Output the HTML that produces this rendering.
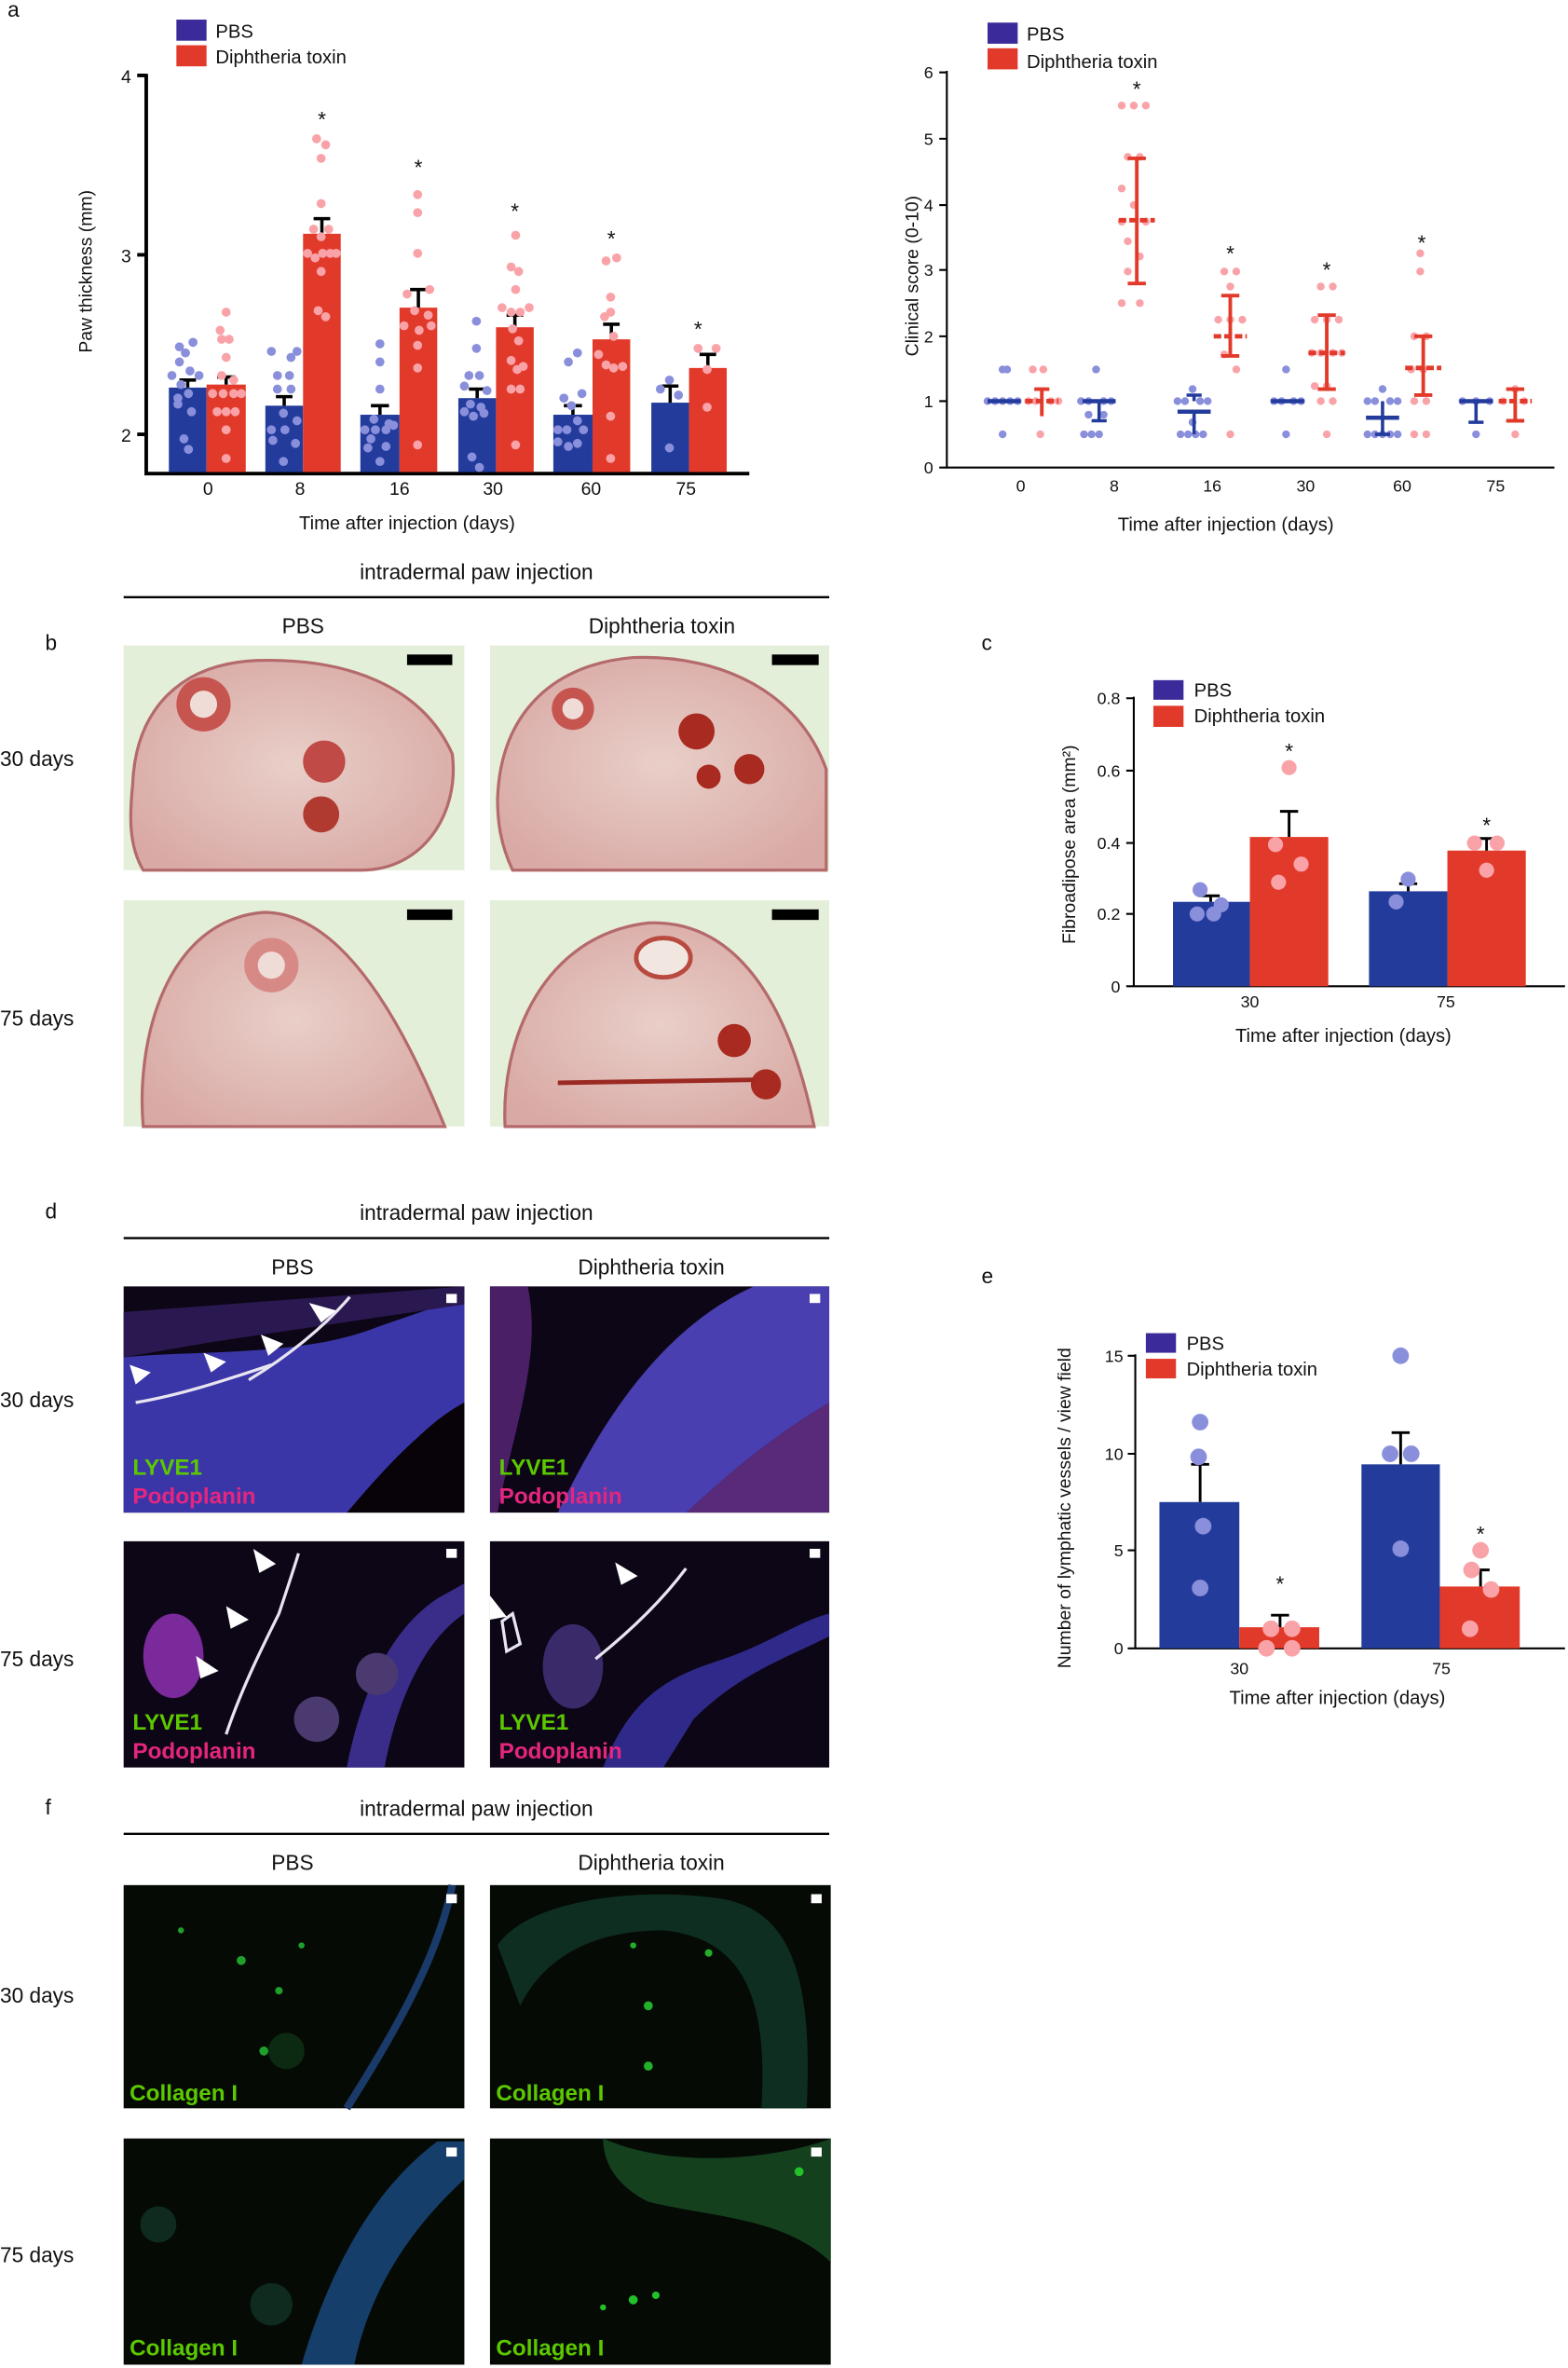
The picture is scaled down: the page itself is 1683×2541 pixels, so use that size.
<!DOCTYPE html>
<html><head><meta charset="utf-8"><style>
html,body{margin:0;padding:0;background:#fff}
svg{display:block}
text{font-family:"Liberation Sans",sans-serif;fill:#111}
</style></head><body>
<svg width="1683" height="2541" viewBox="0 0 1040 1570.2" preserveAspectRatio="none" xmlns="http://www.w3.org/2000/svg">
<defs>
<radialGradient id="tis" cx="50%" cy="50%" r="60%"><stop offset="0" stop-color="#e9cfc8"/><stop offset="1" stop-color="#d9a9a5"/></radialGradient>
</defs>
<!-- ===== Panel a left ===== -->
<text x="5" y="11" font-size="14">a</text>
<rect x="117" y="13" width="20" height="14" fill="#3b2b9a"/><text x="143" y="25" font-size="12.5">PBS</text>
<rect x="117" y="30" width="20" height="14" fill="#e23a2a"/><text x="143" y="42" font-size="12.5">Diphtheria toxin</text>
<g stroke="#000" stroke-width="2.4" fill="none">
<path d="M97 49 V314 H497"/>
<path d="M91 50 H97 M91 169 H97 M91 288 H97"/>
</g>
<text x="87" y="55" font-size="12" text-anchor="end">4</text>
<text x="87" y="174" font-size="12" text-anchor="end">3</text>
<text x="87" y="293" font-size="12" text-anchor="end">2</text>
<text transform="translate(61,180) rotate(-90)" font-size="12" text-anchor="middle">Paw thickness (mm)</text>
<g fill="#233c9c">
<rect x="112" y="257" width="25" height="56"/><rect x="176" y="269" width="25" height="44"/><rect x="239" y="275" width="26" height="38"/>
<rect x="304" y="264" width="25" height="49"/><rect x="367" y="275" width="26" height="38"/><rect x="432" y="267" width="25" height="46"/>
</g>
<g fill="#e23a2a">
<rect x="137" y="255" width="26" height="58"/><rect x="201" y="155" width="25" height="158"/><rect x="265" y="204" width="25" height="109"/>
<rect x="329" y="217" width="25" height="96"/><rect x="393" y="225" width="25" height="88"/><rect x="457" y="244" width="25" height="69"/>
</g>
<g stroke="#000" stroke-width="2.2">
<path d="M124.5 257V252M119 252H130 M150 255V250M144 250H156 M188.5 269V263M183 263H194 M213.5 155V145M208 145H219 M252 275V269M246 269H258 M277.5 204V192M272 192H283 M316.5 264V258M311 258H322 M341.5 217V209M336 209H347 M380 275V269M374 269H386 M405.5 225V215M400 215H411 M444.5 267V256M439 256H450 M469.5 244V235M464 235H475"/>
</g>
<g font-size="14" text-anchor="middle"><text x="213.5" y="84">*</text><text x="277.5" y="116">*</text><text x="341.5" y="145">*</text><text x="405.5" y="163">*</text><text x="463" y="223">*</text></g>
<g fill="#8a8fdc">
<circle cx="119" cy="230" r="3"/><circle cx="128" cy="227" r="3"/><circle cx="123" cy="234" r="3"/><circle cx="119" cy="240" r="3"/><circle cx="126" cy="246" r="3"/><circle cx="114" cy="249" r="3"/><circle cx="132" cy="249" r="3"/><circle cx="120" cy="255" r="3"/><circle cx="125" cy="261" r="3"/><circle cx="118" cy="264" r="3"/><circle cx="127" cy="273" r="3"/><circle cx="122" cy="291" r="3"/><circle cx="125" cy="298" r="3"/><circle cx="118" cy="268" r="3"/>
<circle cx="180" cy="233" r="3"/><circle cx="193" cy="237" r="3"/><circle cx="197" cy="233" r="3"/><circle cx="184" cy="249" r="3"/><circle cx="192" cy="249" r="3"/><circle cx="184" cy="258" r="3"/><circle cx="193" cy="258" r="3"/><circle cx="188" cy="274" r="3"/><circle cx="197" cy="279" r="3"/><circle cx="180" cy="285" r="3"/><circle cx="189" cy="285" r="3"/><circle cx="181" cy="292" r="3"/><circle cx="196" cy="294" r="3"/><circle cx="188" cy="306" r="3"/>
<circle cx="252" cy="228" r="3"/><circle cx="252" cy="240" r="3"/><circle cx="252" cy="258" r="3"/><circle cx="248" cy="278" r="3"/><circle cx="258" cy="281" r="3"/><circle cx="242" cy="285" r="3"/><circle cx="249" cy="285" r="3"/><circle cx="256" cy="285" r="3"/><circle cx="246" cy="291" r="3"/><circle cx="244" cy="297" r="3"/><circle cx="256" cy="296" r="3"/><circle cx="252" cy="306" r="3"/><circle cx="261" cy="282" r="3"/>
<circle cx="316" cy="213" r="3"/><circle cx="316" cy="231" r="3"/><circle cx="311" cy="249" r="3"/><circle cx="318" cy="249" r="3"/><circle cx="308" cy="256" r="3"/><circle cx="323" cy="259" r="3"/><circle cx="312" cy="268" r="3"/><circle cx="319" cy="270" r="3"/><circle cx="308" cy="273" r="3"/><circle cx="314" cy="276" r="3"/><circle cx="321" cy="274" r="3"/><circle cx="313" cy="303" r="3"/><circle cx="318" cy="310" r="3"/>
<circle cx="377" cy="240" r="3"/><circle cx="383" cy="234" r="3"/><circle cx="374" cy="264" r="3"/><circle cx="386" cy="261" r="3"/><circle cx="379" cy="269" r="3"/><circle cx="383" cy="279" r="3"/><circle cx="370" cy="285" r="3"/><circle cx="376" cy="285" r="3"/><circle cx="387" cy="285" r="3"/><circle cx="370" cy="293" r="3"/><circle cx="377" cy="296" r="3"/><circle cx="383" cy="294" r="3"/>
<circle cx="444" cy="252" r="3"/><circle cx="438" cy="258" r="3"/><circle cx="450" cy="262" r="3"/><circle cx="444" cy="297" r="3"/>
</g>
<g fill="#f9a3a8">
<circle cx="150" cy="207" r="3"/><circle cx="146" cy="219" r="3"/><circle cx="152" cy="225" r="3"/><circle cx="147" cy="225" r="3"/><circle cx="150" cy="237" r="3"/><circle cx="147" cy="249" r="3"/><circle cx="141" cy="261" r="3"/><circle cx="148" cy="261" r="3"/><circle cx="155" cy="261" r="3"/><circle cx="160" cy="261" r="3"/><circle cx="144" cy="273" r="3"/><circle cx="150" cy="273" r="3"/><circle cx="156" cy="273" r="3"/><circle cx="150" cy="285" r="3"/><circle cx="150" cy="304" r="3"/><circle cx="155" cy="252" r="3"/>
<circle cx="210" cy="92" r="3"/><circle cx="216" cy="96" r="3"/><circle cx="213" cy="105" r="3"/><circle cx="213" cy="135" r="3"/><circle cx="208" cy="152" r="3"/><circle cx="218" cy="152" r="3"/><circle cx="213" cy="157" r="3"/><circle cx="204" cy="168" r="3"/><circle cx="209" cy="171" r="3"/><circle cx="214" cy="168" r="3"/><circle cx="219" cy="168" r="3"/><circle cx="223" cy="168" r="3"/><circle cx="213" cy="180" r="3"/><circle cx="211" cy="206" r="3"/><circle cx="216" cy="210" r="3"/>
<circle cx="277" cy="129" r="3"/><circle cx="277" cy="141" r="3"/><circle cx="277" cy="168" r="3"/><circle cx="270" cy="195" r="3"/><circle cx="285" cy="192" r="3"/><circle cx="275" cy="206" r="3"/><circle cx="284" cy="209" r="3"/><circle cx="268" cy="216" r="3"/><circle cx="286" cy="216" r="3"/><circle cx="278" cy="219" r="3"/><circle cx="277" cy="229" r="3"/><circle cx="277" cy="244" r="3"/><circle cx="277" cy="295" r="3"/>
<circle cx="342" cy="156" r="3"/><circle cx="339" cy="177" r="3"/><circle cx="344" cy="180" r="3"/><circle cx="342" cy="192" r="3"/><circle cx="333" cy="204" r="3"/><circle cx="339" cy="207" r="3"/><circle cx="345" cy="207" r="3"/><circle cx="351" cy="204" r="3"/><circle cx="340" cy="218" r="3"/><circle cx="344" cy="226" r="3"/><circle cx="339" cy="239" r="3"/><circle cx="343" cy="245" r="3"/><circle cx="347" cy="243" r="3"/><circle cx="339" cy="258" r="3"/><circle cx="345" cy="258" r="3"/><circle cx="342" cy="295" r="3"/>
<circle cx="402" cy="173" r="3"/><circle cx="409" cy="171" r="3"/><circle cx="405" cy="197" r="3"/><circle cx="405" cy="207" r="3"/><circle cx="401" cy="210" r="3"/><circle cx="407" cy="223" r="3"/><circle cx="397" cy="235" r="3"/><circle cx="402" cy="242" r="3"/><circle cx="407" cy="244" r="3"/><circle cx="413" cy="243" r="3"/><circle cx="405" cy="276" r="3"/><circle cx="405" cy="304" r="3"/>
<circle cx="463" cy="231" r="3"/><circle cx="475" cy="231" r="3"/><circle cx="469" cy="245" r="3"/><circle cx="469" cy="270" r="3"/>
</g>
<g font-size="12" text-anchor="middle"><text x="138" y="328">0</text><text x="199" y="328">8</text><text x="265" y="328">16</text><text x="327" y="328">30</text><text x="392" y="328">60</text><text x="455" y="328">75</text></g>
<text x="270" y="351" font-size="12.5" text-anchor="middle">Time after injection (days)</text>

<!-- ===== Panel a right ===== -->
<rect x="655" y="15" width="20" height="14" fill="#3b2b9a"/><text x="681" y="27" font-size="12.5">PBS</text>
<rect x="655" y="32" width="20" height="14" fill="#e23a2a"/><text x="681" y="45" font-size="12.5">Diphtheria toxin</text>
<g stroke="#000" stroke-width="1.3" fill="none"><path d="M628 47 V310 H1031"/>
<path d="M623 48H628 M623 92H628 M623 136H628 M623 179H628 M623 223H628 M623 266H628 M623 310H628"/></g>
<g font-size="11" text-anchor="end"><text x="619" y="52">6</text><text x="619" y="96">5</text><text x="619" y="140">4</text><text x="619" y="183">3</text><text x="619" y="227">2</text><text x="619" y="270">1</text><text x="619" y="314">0</text></g>
<text transform="translate(609,183) rotate(-90)" font-size="12" text-anchor="middle">Clinical score (0-10)</text>
<g font-size="11" text-anchor="middle"><text x="677" y="326">0</text><text x="739" y="326">8</text><text x="804" y="326">16</text><text x="866" y="326">30</text><text x="930" y="326">60</text><text x="992" y="326">75</text></g>
<text x="813" y="352" font-size="12.5" text-anchor="middle">Time after injection (days)</text>
<g fill="#8a8fdc">
<circle cx="665" cy="245" r="2.6"/><circle cx="668" cy="245" r="2.6"/><circle cx="655" cy="266" r="2.6"/><circle cx="660" cy="266" r="2.6"/><circle cx="665" cy="266" r="2.6"/><circle cx="670" cy="266" r="2.6"/><circle cx="675" cy="266" r="2.6"/><circle cx="665" cy="288" r="2.6"/>
<circle cx="727" cy="245" r="2.6"/><circle cx="717" cy="266" r="2.6"/><circle cx="722" cy="266" r="2.6"/><circle cx="732" cy="266" r="2.6"/><circle cx="737" cy="266" r="2.6"/><circle cx="722" cy="275" r="2.6"/><circle cx="732" cy="275" r="2.6"/><circle cx="719" cy="288" r="2.6"/><circle cx="724" cy="288" r="2.6"/><circle cx="729" cy="288" r="2.6"/>
<circle cx="791" cy="258" r="2.6"/><circle cx="781" cy="266" r="2.6"/><circle cx="786" cy="266" r="2.6"/><circle cx="796" cy="266" r="2.6"/><circle cx="801" cy="266" r="2.6"/><circle cx="791" cy="280" r="2.6"/><circle cx="783" cy="288" r="2.6"/><circle cx="788" cy="288" r="2.6"/><circle cx="793" cy="288" r="2.6"/><circle cx="798" cy="288" r="2.6"/>
<circle cx="853" cy="245" r="2.6"/><circle cx="845" cy="266" r="2.6"/><circle cx="850" cy="266" r="2.6"/><circle cx="858" cy="266" r="2.6"/><circle cx="863" cy="266" r="2.6"/><circle cx="853" cy="288" r="2.6"/>
<circle cx="917" cy="258" r="2.6"/><circle cx="907" cy="266" r="2.6"/><circle cx="912" cy="266" r="2.6"/><circle cx="922" cy="266" r="2.6"/><circle cx="927" cy="266" r="2.6"/><circle cx="907" cy="288" r="2.6"/><circle cx="912" cy="288" r="2.6"/><circle cx="917" cy="288" r="2.6"/><circle cx="922" cy="288" r="2.6"/><circle cx="927" cy="288" r="2.6"/>
<circle cx="970" cy="266" r="2.6"/><circle cx="979" cy="266" r="2.6"/><circle cx="988" cy="266" r="2.6"/><circle cx="979" cy="288" r="2.6"/>
</g>
<g fill="#f9a3a8">
<circle cx="685" cy="245" r="2.6"/><circle cx="692" cy="245" r="2.6"/><circle cx="682" cy="266" r="2.6"/><circle cx="687" cy="266" r="2.6"/><circle cx="697" cy="266" r="2.6"/><circle cx="702" cy="266" r="2.6"/><circle cx="690" cy="288" r="2.6"/>
<circle cx="744" cy="70" r="2.6"/><circle cx="752" cy="70" r="2.6"/><circle cx="760" cy="70" r="2.6"/><circle cx="748" cy="104" r="2.6"/><circle cx="756" cy="104" r="2.6"/><circle cx="744" cy="125" r="2.6"/><circle cx="752" cy="136" r="2.6"/><circle cx="744" cy="147" r="2.6"/><circle cx="760" cy="147" r="2.6"/><circle cx="748" cy="160" r="2.6"/><circle cx="756" cy="170" r="2.6"/><circle cx="748" cy="180" r="2.6"/><circle cx="744" cy="201" r="2.6"/><circle cx="756" cy="201" r="2.6"/>
<circle cx="812" cy="180" r="2.6"/><circle cx="820" cy="180" r="2.6"/><circle cx="816" cy="190" r="2.6"/><circle cx="808" cy="212" r="2.6"/><circle cx="816" cy="212" r="2.6"/><circle cx="824" cy="212" r="2.6"/><circle cx="812" cy="235" r="2.6"/><circle cx="820" cy="245" r="2.6"/><circle cx="816" cy="288" r="2.6"/>
<circle cx="876" cy="190" r="2.6"/><circle cx="884" cy="190" r="2.6"/><circle cx="872" cy="212" r="2.6"/><circle cx="880" cy="212" r="2.6"/><circle cx="888" cy="212" r="2.6"/><circle cx="870" cy="234" r="2.6"/><circle cx="876" cy="234" r="2.6"/><circle cx="884" cy="234" r="2.6"/><circle cx="890" cy="234" r="2.6"/><circle cx="872" cy="256" r="2.6"/><circle cx="880" cy="256" r="2.6"/><circle cx="876" cy="266" r="2.6"/><circle cx="884" cy="266" r="2.6"/><circle cx="880" cy="288" r="2.6"/>
<circle cx="942" cy="168" r="2.6"/><circle cx="942" cy="180" r="2.6"/><circle cx="938" cy="223" r="2.6"/><circle cx="946" cy="223" r="2.6"/><circle cx="936" cy="245" r="2.6"/><circle cx="944" cy="245" r="2.6"/><circle cx="938" cy="266" r="2.6"/><circle cx="946" cy="266" r="2.6"/><circle cx="938" cy="288" r="2.6"/><circle cx="946" cy="288" r="2.6"/>
<circle cx="1005" cy="258" r="2.6"/><circle cx="997" cy="266" r="2.6"/><circle cx="1011" cy="266" r="2.6"/><circle cx="1005" cy="288" r="2.6"/>
</g>
<g stroke="#233c9c" stroke-width="2.2" fill="none">
<path d="M655 266H677 M718 266H740 M781 273H803 M843 266H865 M906 277H928 M968 266H990" stroke-width="2.8"/>
<path d="M729 266V279M724 279H734 M792 266V262M787 262H797 M792 273V288 M917 266V288M912 288H922 M917 266H917 M979 266V280M974 280H984"/>
</g>
<g stroke="#e23a2a" stroke-width="2.4" fill="none">
<path d="M680 266H702 M742 146H766 M805 223H827 M868 234H892 M932 244H956 M994 266H1016" stroke-width="3" stroke-dasharray="5 2"/>
<path d="M754 105V188 M748 105H760 M748 188H760 M816 196V236 M810 196H822 M810 236H822 M880 209V258 M874 209H886 M874 258H886 M944 223V262 M938 223H950 M938 262H950 M1005 258V279 M999 258H1011 M999 279H1011 M691 258V276 M686 258H696"/>
</g>
<g font-size="14" text-anchor="middle"><text x="754" y="64">*</text><text x="816" y="173">*</text><text x="880" y="184">*</text><text x="943" y="166">*</text></g>

<!-- ===== Panel b ===== -->
<text x="30" y="431" font-size="14">b</text>
<text x="316" y="384" font-size="14" text-anchor="middle">intradermal paw injection</text>
<line x1="82" y1="396" x2="550" y2="396" stroke="#000" stroke-width="1.5"/>
<text x="201" y="420" font-size="14" text-anchor="middle">PBS</text>
<text x="439" y="420" font-size="14" text-anchor="middle">Diphtheria toxin</text>
<text x="0" y="508" font-size="14">30 days</text>
<text x="0" y="680" font-size="14">75 days</text>
<g>
<rect x="82" y="428" width="226" height="149" fill="#e4efd9"/>
<path d="M88 520 C90 470 120 440 170 438 C230 436 280 455 300 500 C305 540 280 577 240 577 L95 577 C85 560 86 540 88 520Z" fill="url(#tis)" stroke="#b46a6a" stroke-width="2"/>
<circle cx="135" cy="467" r="18" fill="#c65550"/><circle cx="135" cy="467" r="9" fill="#f0dcd6"/>
<circle cx="215" cy="505" r="14" fill="#c04a45"/><circle cx="213" cy="540" r="12" fill="#b03a30"/>
<rect x="270" y="434" width="30" height="7" fill="#000"/>
<rect x="325" y="428" width="225" height="149" fill="#e4efd9"/>
<path d="M330 530 C332 470 370 440 420 436 C480 434 530 460 548 510 L548 577 L340 577 C332 560 330 545 330 530Z" fill="url(#tis)" stroke="#b46a6a" stroke-width="2"/>
<circle cx="380" cy="470" r="14" fill="#c65550"/><circle cx="380" cy="470" r="7" fill="#f0dcd6"/>
<circle cx="462" cy="485" r="12" fill="#a82a20"/><circle cx="497" cy="510" r="10" fill="#a82a20"/><circle cx="470" cy="515" r="8" fill="#a82a20"/>
<rect x="512" y="434" width="31" height="7" fill="#000"/>
<rect x="82" y="597" width="226" height="150" fill="#e4efd9"/>
<path d="M95 747 C90 690 110 610 175 605 C220 605 260 660 295 747Z" fill="url(#tis)" stroke="#b46a6a" stroke-width="2"/>
<circle cx="180" cy="640" r="18" fill="#d78a85"/><circle cx="180" cy="640" r="9" fill="#f0dcd6"/>
<rect x="270" y="603" width="30" height="7" fill="#000"/>
<rect x="325" y="597" width="225" height="150" fill="#e4efd9"/>
<path d="M335 747 C332 690 360 620 430 612 C480 610 520 650 540 747Z" fill="url(#tis)" stroke="#b46a6a" stroke-width="2"/>
<ellipse cx="440" cy="635" rx="18" ry="13" fill="#f2e6e0" stroke="#b84a40" stroke-width="3"/>
<circle cx="487" cy="690" r="11" fill="#a82a20"/><circle cx="508" cy="719" r="10" fill="#a82a20"/>
<line x1="370" y1="718" x2="500" y2="716" stroke="#9a2a22" stroke-width="3"/>
<rect x="512" y="603" width="31" height="7" fill="#000"/>
</g>

<!-- ===== Panel c ===== -->
<text x="651" y="431" font-size="14">c</text>
<rect x="765" y="451" width="20" height="13" fill="#3b2b9a"/><text x="792" y="462" font-size="12.5">PBS</text>
<rect x="765" y="468" width="20" height="14" fill="#e23a2a"/><text x="792" y="479" font-size="12.5">Diphtheria toxin</text>
<g stroke="#000" stroke-width="1.3" fill="none"><path d="M752 462V654H1038 M747 463H752 M747 511H752 M747 559H752 M747 606H752 M747 654H752"/></g>
<g font-size="11" text-anchor="end"><text x="743" y="467">0.8</text><text x="743" y="515">0.6</text><text x="743" y="563">0.4</text><text x="743" y="610">0.2</text><text x="743" y="658">0</text></g>
<text transform="translate(713,560) rotate(-90)" font-size="12" text-anchor="middle">Fibroadipose area (mm²)</text>
<rect x="778" y="598" width="51" height="56" fill="#233c9c"/><rect x="829" y="555" width="52" height="99" fill="#e23a2a"/>
<rect x="908" y="591" width="52" height="63" fill="#233c9c"/><rect x="960" y="564" width="52" height="90" fill="#e23a2a"/>
<g stroke="#000" stroke-width="1.8"><path d="M803 598V594M797 594H809 M855 555V538M849 538H861 M934 591V586M928 586H940 M986 564V556M980 556H992"/></g>
<g fill="#8a8fdc"><circle cx="796" cy="590" r="5"/><circle cx="810" cy="600" r="5"/><circle cx="794" cy="606" r="5"/><circle cx="805" cy="606" r="5"/><circle cx="934" cy="583" r="5"/><circle cx="926" cy="598" r="5"/></g>
<g fill="#f9a3a8"><circle cx="855" cy="509" r="5"/><circle cx="846" cy="560" r="5"/><circle cx="863" cy="573" r="5"/><circle cx="848" cy="585" r="5"/><circle cx="978" cy="559" r="5"/><circle cx="993" cy="559" r="5"/><circle cx="986" cy="577" r="5"/></g>
<g font-size="14" text-anchor="middle"><text x="855" y="503">*</text><text x="986" y="552">*</text></g>
<g font-size="11" text-anchor="middle"><text x="829" y="668">30</text><text x="959" y="668">75</text></g>
<text x="891" y="691" font-size="12.5" text-anchor="middle">Time after injection (days)</text>

<!-- ===== Panel d ===== -->
<text x="30" y="808" font-size="14">d</text>
<text x="316" y="809" font-size="14" text-anchor="middle">intradermal paw injection</text>
<line x1="82" y1="821" x2="550" y2="821" stroke="#000" stroke-width="1.5"/>
<text x="194" y="845" font-size="14" text-anchor="middle">PBS</text>
<text x="432" y="845" font-size="14" text-anchor="middle">Diphtheria toxin</text>
<text x="0" y="933" font-size="14">30 days</text>
<text x="0" y="1105" font-size="14">75 days</text>
<g font-family="Liberation Sans" font-weight="bold" font-size="15">
<rect x="82" y="853" width="226" height="150" fill="#0d0616"/>
<path d="M82 900 C130 895 200 900 250 880 L308 860 L308 930 C270 950 250 990 230 1003 L82 1003Z" fill="#3a36a8"/>
<path d="M82 870 L308 853 L308 865 L140 890 L82 900Z" fill="#2a1850"/>
<path d="M230 1003 C250 980 275 950 308 930 L308 1003Z" fill="#070309"/>
<path d="M90 930 C120 925 150 915 180 905 M165 915 C190 900 215 880 232 860" stroke="#e8e4f0" stroke-width="2" fill="none"/>
<g fill="#fff"><path d="M86 905 L100 910 L90 918Z"/><path d="M135 897 L150 903 L140 910Z"/><path d="M173 885 L188 891 L178 899Z"/><path d="M205 864 L223 869 L213 877Z"/></g>
<rect x="296" y="858" width="7" height="6" fill="#fff"/>
<text x="88" y="978" fill="#5cc800" style="fill:#5cc800">LYVE1</text><text x="88" y="997" style="fill:#e5267e">Podoplanin</text>
<rect x="325" y="853" width="225" height="150" fill="#0d0616"/>
<path d="M370 1003 C400 940 440 880 500 853 L550 853 L550 930 C500 960 470 990 455 1003Z" fill="#4a3fb0"/>
<path d="M455 1003 C470 990 500 960 550 930 L550 1003Z" fill="#5a2a7a"/>
<path d="M325 853 L350 853 C360 900 340 950 330 1003 L325 1003Z" fill="#4a1f66"/>
<rect x="537" y="858" width="7" height="6" fill="#fff"/>
<text x="331" y="978" style="fill:#5cc800">LYVE1</text><text x="331" y="997" style="fill:#e5267e">Podoplanin</text>
<rect x="82" y="1022" width="226" height="150" fill="#0d0616"/>
<ellipse cx="115" cy="1098" rx="20" ry="28" fill="#7a2a9a"/>
<path d="M230 1172 C240 1120 260 1080 290 1060 L308 1050 L308 1070 C285 1085 265 1120 255 1172Z" fill="#3a2d8a"/>
<circle cx="250" cy="1110" r="14" fill="#4a3a70"/><circle cx="210" cy="1140" r="15" fill="#4a3a70"/>
<path d="M150 1150 C160 1120 175 1090 185 1070 C190 1055 195 1040 198 1030" stroke="#e8e4f0" stroke-width="2" fill="none"/>
<g fill="#fff"><path d="M168 1027 L183 1037 L172 1043Z"/><path d="M150 1065 L165 1074 L153 1080Z"/><path d="M130 1098 L145 1108 L133 1113Z"/></g>
<rect x="296" y="1027" width="7" height="6" fill="#fff"/>
<text x="88" y="1147" style="fill:#5cc800">LYVE1</text><text x="88" y="1166" style="fill:#e5267e">Podoplanin</text>
<rect x="325" y="1022" width="225" height="150" fill="#0d0616"/>
<path d="M400 1172 C420 1120 450 1110 480 1100 C510 1090 530 1075 550 1070 L550 1085 C520 1100 490 1110 460 1140 L440 1172Z" fill="#2f2a8a"/>
<ellipse cx="380" cy="1105" rx="20" ry="28" fill="#3a2a6a"/>
<path d="M395 1100 C420 1080 440 1060 455 1040" stroke="#e8e4f0" stroke-width="2" fill="none"/>
<path d="M333 1075 L340 1070 L345 1090 L336 1095Z" stroke="#e8e4f0" stroke-width="2" fill="none"/>
<g fill="#fff"><path d="M408 1036 L423 1045 L412 1051Z"/><path d="M325 1058 L336 1072 L325 1074Z"/></g>
<rect x="537" y="1027" width="7" height="6" fill="#fff"/>
<text x="331" y="1147" style="fill:#5cc800">LYVE1</text><text x="331" y="1166" style="fill:#e5267e">Podoplanin</text>
</g>

<!-- ===== Panel e ===== -->
<text x="651" y="851" font-size="14">e</text>
<rect x="760" y="884" width="20" height="13" fill="#3b2b9a"/><text x="787" y="895" font-size="12.5">PBS</text>
<rect x="760" y="901" width="20" height="13" fill="#e23a2a"/><text x="787" y="912" font-size="12.5">Diphtheria toxin</text>
<g stroke="#000" stroke-width="1.3" fill="none"><path d="M753 898V1093H1038 M748 899H753 M748 964H753 M748 1028H753 M748 1093H753"/></g>
<g font-size="11" text-anchor="end"><text x="745" y="903">15</text><text x="745" y="968">10</text><text x="745" y="1032">5</text><text x="745" y="1097">0</text></g>
<text transform="translate(710,1000) rotate(-90)" font-size="12" text-anchor="middle">Number of lymphatic vessels / view field</text>
<rect x="769" y="996" width="53" height="97" fill="#233c9c"/><rect x="822" y="1079" width="53" height="14" fill="#e23a2a"/>
<rect x="903" y="971" width="52" height="122" fill="#233c9c"/><rect x="955" y="1052" width="53" height="41" fill="#e23a2a"/>
<g stroke="#000" stroke-width="1.8"><path d="M796 996V971M790 971H802 M849 1079V1071M843 1071H855 M929 971V950M923 950H935 M982 1052V1041M976 1041H988"/></g>
<g fill="#8a8fdc"><circle cx="796" cy="943" r="5.5"/><circle cx="795" cy="966" r="5.5"/><circle cx="798" cy="1012" r="5.5"/><circle cx="796" cy="1053" r="5.5"/><circle cx="929" cy="899" r="5.5"/><circle cx="922" cy="964" r="5.5"/><circle cx="936" cy="964" r="5.5"/><circle cx="929" cy="1027" r="5.5"/></g>
<g fill="#f9a3a8"><circle cx="843" cy="1080" r="5.5"/><circle cx="857" cy="1080" r="5.5"/><circle cx="840" cy="1093" r="5.5"/><circle cx="857" cy="1093" r="5.5"/><circle cx="982" cy="1028" r="5.5"/><circle cx="976" cy="1041" r="5.5"/><circle cx="989" cy="1054" r="5.5"/><circle cx="975" cy="1080" r="5.5"/></g>
<g font-size="14" text-anchor="middle"><text x="849" y="1055">*</text><text x="982" y="1022">*</text></g>
<g font-size="11" text-anchor="middle"><text x="822" y="1110">30</text><text x="956" y="1110">75</text></g>
<text x="887" y="1130" font-size="12.5" text-anchor="middle">Time after injection (days)</text>

<!-- ===== Panel f ===== -->
<text x="30" y="1203" font-size="14">f</text>
<text x="316" y="1204" font-size="14" text-anchor="middle">intradermal paw injection</text>
<line x1="82" y1="1216" x2="550" y2="1216" stroke="#000" stroke-width="1.5"/>
<text x="194" y="1240" font-size="14" text-anchor="middle">PBS</text>
<text x="432" y="1240" font-size="14" text-anchor="middle">Diphtheria toxin</text>
<text x="0" y="1328" font-size="14">30 days</text>
<text x="0" y="1500" font-size="14">75 days</text>
<g font-family="Liberation Sans" font-weight="bold" font-size="15">
<rect x="82" y="1250" width="226" height="148" fill="#050a05"/>
<path d="M230 1398 C260 1350 290 1300 300 1250" stroke="#1a3a6a" stroke-width="5" fill="none"/>
<circle cx="190" cy="1360" r="12" fill="#0c2a12"/>
<g fill="#1fa02a"><circle cx="160" cy="1300" r="3"/><circle cx="185" cy="1320" r="2.5"/><circle cx="120" cy="1280" r="2"/><circle cx="200" cy="1290" r="2"/><circle cx="175" cy="1360" r="3"/></g>
<rect x="296" y="1256" width="7" height="6" fill="#fff"/>
<text x="86" y="1393" style="fill:#5cc800">Collagen I</text>
<rect x="325" y="1250" width="226" height="148" fill="#050a05"/>
<path d="M330 1290 C350 1260 420 1252 470 1258 C520 1262 540 1300 535 1398 L505 1398 C510 1320 490 1285 440 1280 C390 1280 360 1300 345 1330Z" fill="#0e2e22"/>
<g fill="#22b02a"><circle cx="430" cy="1330" r="3"/><circle cx="470" cy="1295" r="2.5"/><circle cx="430" cy="1370" r="3"/><circle cx="420" cy="1290" r="2"/></g>
<rect x="538" y="1256" width="7" height="6" fill="#fff"/>
<text x="329" y="1393" style="fill:#5cc800">Collagen I</text>
<rect x="82" y="1418" width="226" height="150" fill="#050a05"/>
<path d="M200 1568 C220 1500 250 1450 290 1420 L308 1420 L308 1445 C270 1480 245 1520 235 1568Z" fill="#163e6a"/>
<circle cx="105" cy="1475" r="12" fill="#0f2a1f"/><circle cx="180" cy="1528" r="14" fill="#0f2a1f"/>
<rect x="296" y="1424" width="7" height="6" fill="#fff"/>
<text x="86" y="1562" style="fill:#5cc800">Collagen I</text>
<rect x="325" y="1418" width="226" height="150" fill="#050a05"/>
<path d="M400 1418 C450 1440 520 1430 551 1418 L551 1500 C520 1470 470 1470 430 1460 C410 1450 400 1435 400 1418Z" fill="#14401e"/>
<g fill="#22c02a"><circle cx="420" cy="1525" r="3"/><circle cx="435" cy="1522" r="2.5"/><circle cx="400" cy="1530" r="2"/><circle cx="530" cy="1440" r="3"/></g>
<rect x="538" y="1424" width="7" height="6" fill="#fff"/>
<text x="329" y="1562" style="fill:#5cc800">Collagen I</text>
</g>
</svg>
</body></html>
